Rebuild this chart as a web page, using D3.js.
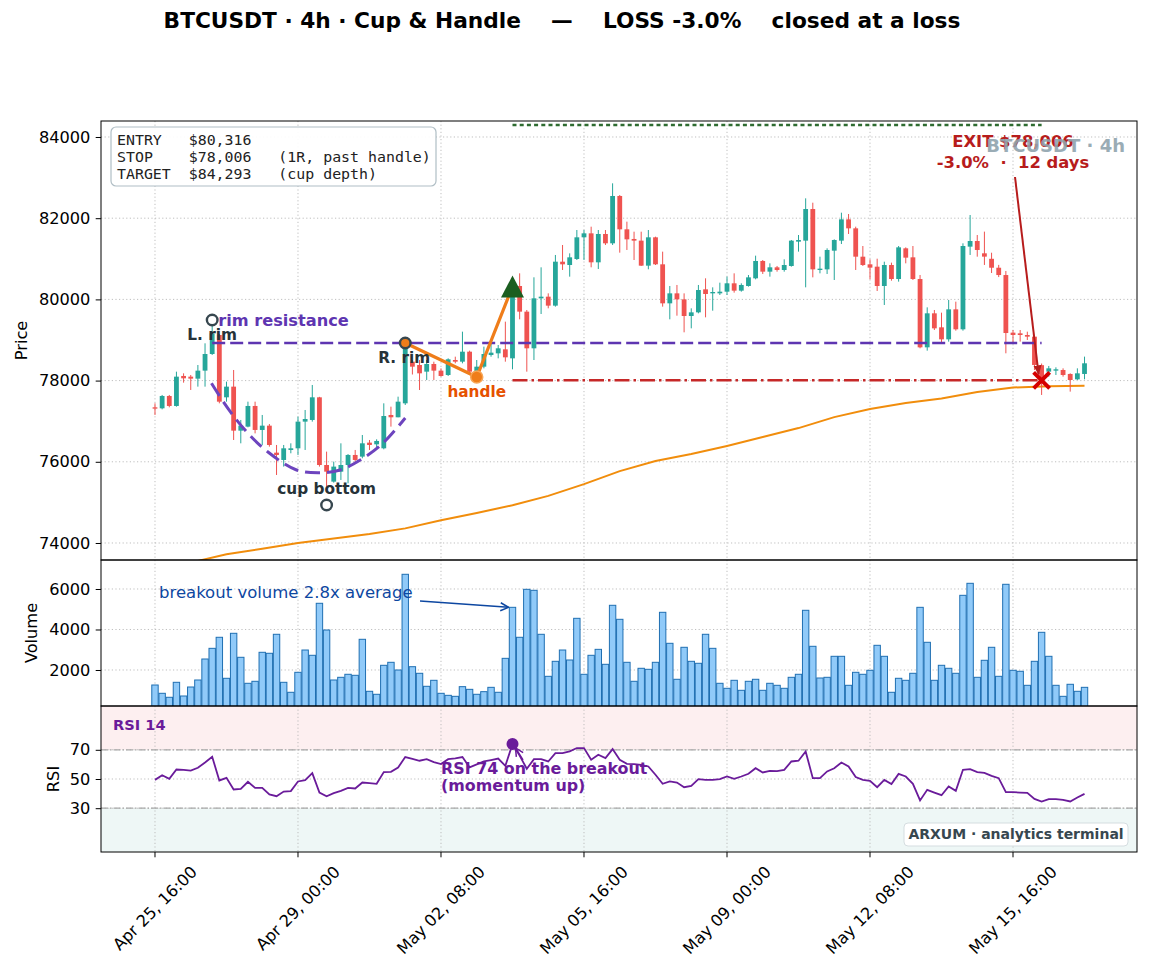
<!DOCTYPE html>
<html>
<head>
<meta charset="utf-8">
<script src="https://cdn.jsdelivr.net/npm/d3@7"></script>
<style>
  body { margin: 0; background: #fff; }
  text { font-family: "DejaVu Sans", sans-serif; }
  .pre { white-space: pre; }
</style>
</head>
<body>
<svg id="chart"></svg>
<script>
// ---- data ----
// candle index 0 = Apr 25 16:00, 4h per candle
const tickIdx = [0, 20, 40, 60, 80, 100, 120];
const tickLabels = ["Apr 25, 16:00", "Apr 29, 00:00", "May 02, 08:00", "May 05, 16:00",
                    "May 09, 00:00", "May 12, 08:00", "May 15, 16:00"];
const priceTicks = [74000, 76000, 78000, 80000, 82000, 84000];
const volTicks = [2000, 4000, 6000];
const rsiTicks = [30, 50, 70];

// [open, high, low, close]
const ohlc = [
  [77342,77440,77153,77309],[77317,77646,77292,77621],[77621,77646,77342,77375],[77375,78220,77358,78097],
  [78114,78179,77949,78056],[78097,78138,77769,78048],[78048,78384,77851,78245],[78245,78918,77851,78655],
  [78655,79411,78631,79164],[79123,79150,77440,77481],[77588,77974,77481,77851],[77851,78261,76537,76767],
  [76767,77030,76455,76890],[76866,77481,76849,77375],[77375,77481,76700,76784],[76784,77153,76414,76890],
  [76890,76931,76373,76414],[76225,76414,75675,76168],[76045,76414,75881,76332],[76291,76455,76209,76332],
  [76332,77112,76168,76989],[76989,77276,76291,77054],[77030,77892,76989,77588],[77588,77600,75881,75921],
  [75921,76250,75306,75757],[75511,76004,75486,75881],[75757,76455,75552,75921],[75921,76190,75470,76168],
  [76168,76291,76004,76045],[76127,76660,76086,76455],[76472,76537,76291,76414],[76430,76554,76332,76513],
  [76332,77440,76307,77128],[77153,77358,76866,77096],[77096,77604,77096,77481],[77440,78959,77399,78918],
  [78466,78507,78150,78343],[78384,78507,77768,78179],[78220,78507,78015,78409],[78409,78466,78015,78245],
  [78245,78302,78097,78113],[78138,78548,78113,78524],[78507,78589,78425,78466],[78466,79205,78425,78712],
  [78712,78737,78179,78220],[78179,78507,78060,78343],[78343,78836,78302,78655],[78630,78918,78589,78688],
  [78671,78877,78548,78795],[78770,79452,78466,78573],[78548,80480,78278,80316],[80330,80642,79509,79698],
  [79698,79739,78220,78795],[78795,80544,78507,80026],[80026,80790,79640,80067],[80067,80149,79780,79846],
  [79846,81094,79821,80929],[80929,81340,80724,80864],[80847,81134,80560,81036],[80995,81709,80970,81529],
  [81529,81709,80970,81627],[81627,81791,80790,80913],[80913,81709,80749,81611],[81611,81709,81340,81381],
  [81381,82859,81340,82547],[82547,82571,81151,81726],[81726,81915,81217,81479],[81488,81668,80970,81447],
  [81447,81668,80823,80831],[80831,81709,80741,81529],[81529,81545,80847,80864],[80864,81176,79821,79903],
  [79903,80330,79509,80149],[80149,80355,79599,80001],[80001,80149,79189,79591],[79591,79780,79287,79681],
  [79681,80355,79657,80231],[80248,80519,79558,80133],[80149,80297,79722,80182],[80149,80412,80108,80190],
  [80190,80560,80108,80396],[80396,80642,80166,80215],[80215,80396,80190,80355],[80330,80601,80314,80543],
  [80519,81077,80494,80946],[80946,80970,80626,80683],[80683,80888,80560,80790],[80790,80823,80683,80724],
  [80724,80987,80683,80847],[80823,81463,80806,81447],[81422,81586,81176,81463],[81447,82489,80297,82226],
  [82226,82382,80543,80740],[80724,81052,80642,80757],[80740,81258,80626,81217],[81200,81479,80478,81463],
  [81447,82136,81364,81972],[81972,82103,81611,81750],[81750,81791,80724,81052],[81052,81315,80823,80847],
  [80864,80987,80494,80782],[80806,81003,80207,80330],[80330,80929,79862,80847],[80847,80905,80461,80502],
  [80502,81315,80437,81282],[81258,81282,80888,81028],[81036,81315,80478,80502],[80502,80601,78795,78819],
  [78819,79804,78737,79657],[79657,79739,79246,79287],[79312,79673,78934,79016],[79016,79985,78959,79755],
  [79755,79944,79230,79263],[79263,81381,79230,81315],[81299,82079,81094,81438],[81438,81586,81052,81217],
  [81135,81669,80848,81053],[81000,81150,80650,80780],[80780,80850,80550,80600],[80600,80700,78672,79172],
  [79181,79246,78918,79123],[79164,79246,78960,79123],[79123,79205,79000,79082],[79082,79082,78261,78385],
  [78380,78420,77646,78006],[78220,78360,78097,78302],[78245,78327,78138,78278],[78261,78302,78097,78138],
  [78163,78179,77728,78015],[78031,78302,78015,78179],[78163,78590,78031,78426]
];

const volumes = [
  1259,849,652,1392,716,1160,1506,2543,3070,3615,
  1590,3812,2627,1343,1442,2874,2825,3763,1392,899,
  1886,2987,2726,5294,3975,1506,1639,1788,1738,3516,
  948,800,2232,2380,2000,6726,2163,1837,1195,1491,
  849,749,700,1177,1045,800,930,1144,899,2576,
  5095,3615,5984,5935,3763,1688,2429,2987,2494,4552,
  1788,2726,3020,2281,5195,4503,2380,1442,2084,2034,
  2380,4849,3318,1541,3121,2429,2331,3763,3070,1343,
  1096,1491,997,1442,1541,997,1343,1244,1096,1639,
  1788,4948,3170,1605,1639,2676,2676,1244,1886,1788,
  1985,3219,2676,899,1590,1491,1837,5095,3368,1491,
  2232,2084,1837,5688,6281,1639,2479,3121,1688,6232,
  1985,1936,1244,2429,3861,2676,1244,700,1294,948,
  1144
];

const rsi = [
  49.4,52.6,50.1,56.5,56.3,55.8,57.7,61.3,65.2,49.0,
  50.8,42.8,43.3,48.1,43.9,43.9,39.4,38.2,41.4,41.7,
  48.3,49.2,54.0,40.7,38.2,40.3,41.9,43.9,43.5,47.6,
  47.2,46.7,54.7,54.9,57.9,65.0,63.8,62.5,63.6,61.6,
  60.2,63.6,64.1,65.0,58.0,60.0,62.0,63.0,64.0,59.0,
  74.0,66.0,57.0,63.6,63.6,62.0,67.7,67.7,68.9,71.2,
  71.2,63.2,66.6,64.3,70.5,63.2,60.4,60.2,59.7,58.6,
  52.9,46.7,48.3,47.6,44.4,45.3,49.9,49.4,49.4,49.9,
  51.7,50.1,51.7,53.6,57.4,54.5,55.6,55.4,56.3,62.0,
  62.5,68.9,50.6,50.6,55.2,57.4,61.3,58.6,51.3,49.4,
  48.8,44.4,49.4,46.5,53.5,51.7,46.7,35.3,42.6,40.7,
  38.9,44.9,41.9,56.3,56.7,54.7,54.2,52.2,50.6,41.0,
  41.0,40.7,40.5,36.4,34.6,36.2,36.2,35.7,34.6,37.3,
  39.8
];

// slow moving average, [candle index, price]
const maPoints = [
  [0,73250],[6,73560],[10,73720],[15,73860],[20,74000],[25,74110],[30,74220],[35,74360],
  [40,74560],[45,74740],[50,74930],[55,75160],[60,75450],[65,75770],[70,76020],[75,76190],
  [80,76390],[85,76610],[90,76830],[95,77100],[100,77300],[105,77450],[110,77560],[115,77720],
  [120,77830],[125,77860],[130,77870]
];

// cup outline, [candle index, price]
const cupArc = [[7.9,77933],[10.2,77315],[12.8,76741],[15.8,76241],[19.8,75798],[23.1,75731],
                [25.9,75798],[28.7,76044],[31.9,76463],[35,77079]];

// pattern pivots
const rimLevel = 78926;
const lRim = { i: 8, price: 79493 };
const rRim = { i: 35, price: 78926 };
const cupBottom = { i: 24, price: 74936 };
const handlePt = { i: 45, price: 78089 };
const entryPt = { i: 50, price: 80316 };
const exitPt = { i: 124, price: 78006 };
const stopPrice = 78006, targetPrice = 84293;
const rsiBreakout = { i: 50, value: 74 };

const infoLines = ["ENTRY   $80,316", "STOP    $78,006   (1R, past handle)", "TARGET  $84,293   (cup depth)"];

// ---- layout ----
const W = 1149, H = 973;
const L = 101, R = 1137;
const pTop = 121, pBot = 560, vTop = 560, vBot = 706, rTop = 706, rBot = 852;

const x = d3.scaleLinear().domain([-7.55, 137.34]).range([L, R]);
const yP = d3.scaleLinear().domain([73581, 84394]).range([pBot, pTop]);
const yV = d3.scaleLinear().domain([222, 7432]).range([vBot, vTop]);
const yR = d3.scaleLinear().domain([0, 100]).range([rBot, rTop]);

const UP = "#26a69a", DOWN = "#ef5350";
const TICK_FS = 16.2, TICK_LEN = 5.3, TICK_PAD = 5.3;

const svg = d3.select("#chart").attr("width", W).attr("height", H);
svg.append("rect").attr("width", W).attr("height", H).attr("fill", "#fff");
const defs = svg.append("defs");

function clip(id, top, bot) {
  defs.append("clipPath").attr("id", id).append("rect")
    .attr("x", L).attr("y", top).attr("width", R - L).attr("height", bot - top);
}
clip("clipP", pTop, pBot); clip("clipV", vTop, vBot); clip("clipR", rTop, rBot);

function arrowHead(id, color, filled) {
  const m = defs.append("marker").attr("id", id).attr("viewBox", "0 0 10 10")
    .attr("refX", 9).attr("refY", 5).attr("markerWidth", 10).attr("markerHeight", 10)
    .attr("markerUnits", "userSpaceOnUse").attr("orient", "auto");
  if (filled) m.append("path").attr("d", "M0,1 L10,5 L0,9 Z").attr("fill", color);
  else m.append("path").attr("d", "M1,1 L9,5 L1,9").attr("fill", "none").attr("stroke", color).attr("stroke-width", 1.5);
}
arrowHead("arBlue", "#0d47a1", false);
arrowHead("arRed", "#b71c1c", true);
arrowHead("arPurple", "#6a1b9a", false);

// RSI zone shading
svg.append("rect").attr("x", L).attr("width", R - L).attr("y", yR(100)).attr("height", yR(70) - yR(100)).attr("fill", "#fdeff0");
svg.append("rect").attr("x", L).attr("width", R - L).attr("y", yR(30)).attr("height", yR(0) - yR(30)).attr("fill", "#eef7f6");

// grids
function grid(yScale, ticks, top, bot) {
  const g = svg.append("g").attr("stroke", "#b8b8b8").attr("stroke-width", 0.9).attr("stroke-dasharray", "1.2,2.4");
  g.selectAll(".gx").data(tickIdx).join("line")
    .attr("x1", d => x(d)).attr("x2", d => x(d)).attr("y1", top).attr("y2", bot);
  g.selectAll(".gy").data(ticks).join("line")
    .attr("x1", L).attr("x2", R).attr("y1", d => yScale(d)).attr("y2", d => yScale(d));
}
grid(yP, priceTicks, pTop, pBot);
grid(yV, volTicks, vTop, vBot);
grid(yR, rsiTicks, rTop, rBot);

// RSI 70 / 30 guides
svg.append("g").selectAll("line").data([70, 30]).join("line")
  .attr("x1", L).attr("x2", R).attr("y1", d => yR(d)).attr("y2", d => yR(d))
  .attr("stroke", "#a8a8a8").attr("stroke-width", 1.3).attr("stroke-dasharray", "7,2,1.5,2");

// ---- price panel ----
const gP = svg.append("g").attr("clip-path", "url(#clipP)");

gP.append("path").datum(maPoints)
  .attr("d", d3.line().x(d => x(d[0])).y(d => yP(d[1])))
  .attr("fill", "none").attr("stroke", "#f18d0c").attr("stroke-width", 2);

const candles = gP.append("g").selectAll("g").data(ohlc).join("g");
candles.append("line")
  .attr("x1", (d, i) => x(i)).attr("x2", (d, i) => x(i))
  .attr("y1", d => yP(d[1])).attr("y2", d => yP(d[2]))
  .attr("stroke", d => d[3] >= d[0] ? UP : DOWN).attr("stroke-width", 1);
candles.append("rect")
  .attr("x", (d, i) => x(i) - 2.4).attr("width", 4.8)
  .attr("y", d => yP(Math.max(d[0], d[3])))
  .attr("height", d => Math.max(1, Math.abs(yP(d[0]) - yP(d[3]))))
  .attr("fill", d => d[3] >= d[0] ? UP : DOWN);

// target, stop, rim lines
gP.append("line").attr("x1", x(entryPt.i)).attr("x2", x(exitPt.i))
  .attr("y1", yP(targetPrice)).attr("y2", yP(targetPrice))
  .attr("stroke", "#2e6b30").attr("stroke-width", 2.5).attr("stroke-dasharray", "4,3.2");
gP.append("line").attr("x1", x(entryPt.i)).attr("x2", x(exitPt.i))
  .attr("y1", yP(stopPrice)).attr("y2", yP(stopPrice))
  .attr("stroke", "#c62828").attr("stroke-width", 2.5).attr("stroke-dasharray", "15,4,2.5,4");
gP.append("line").attr("x1", x(lRim.i)).attr("x2", x(exitPt.i))
  .attr("y1", yP(rimLevel)).attr("y2", yP(rimLevel))
  .attr("stroke", "#5e35b1").attr("stroke-width", 2.4).attr("stroke-dasharray", "13,5");

// cup outline
gP.append("path").datum(cupArc)
  .attr("d", d3.line().curve(d3.curveCatmullRom).x(d => x(d[0])).y(d => yP(d[1])))
  .attr("fill", "none").attr("stroke", "#6d44be").attr("stroke-width", 3).attr("stroke-dasharray", "15,7");

// handle path
gP.append("path").datum([rRim, handlePt, entryPt])
  .attr("d", d3.line().x(d => x(d.i)).y(d => yP(d.price)))
  .attr("fill", "none").attr("stroke", "#ef7d1a").attr("stroke-width", 3.2);

// pivot markers
[lRim, cupBottom].forEach(p => {
  gP.append("circle").attr("cx", x(p.i)).attr("cy", yP(p.price)).attr("r", 5.3)
    .attr("fill", "#fff").attr("stroke", "#37474f").attr("stroke-width", 2.4);
});
gP.append("circle").attr("cx", x(rRim.i)).attr("cy", yP(rRim.price)).attr("r", 5.3)
  .attr("fill", "#ef7d1a").attr("stroke", "#37474f").attr("stroke-width", 2.4);
gP.append("circle").attr("cx", x(handlePt.i)).attr("cy", yP(handlePt.price)).attr("r", 6)
  .attr("fill", "#ef7d1a").attr("stroke", "#f7a657").attr("stroke-width", 1.5);

// entry triangle
{
  const cx = x(entryPt.i), cy = yP(entryPt.price);
  gP.append("path").attr("d", `M${cx},${cy - 11}L${cx - 11.5},${cy + 11}L${cx + 11.5},${cy + 11}Z`)
    .attr("fill", "#1b5e20");
}
// exit cross
{
  const cx = x(exitPt.i), cy = yP(exitPt.price), s = 8;
  gP.append("path").attr("d", `M${cx - s},${cy - s}L${cx + s},${cy + s}M${cx - s},${cy + s}L${cx + s},${cy - s}`)
    .attr("stroke", "#d50000").attr("stroke-width", 4);
}

// price labels
const lab = svg.append("g").attr("font-weight", "bold");
lab.append("text").attr("x", x(lRim.i)).attr("y", yP(lRim.price) + 20).attr("text-anchor", "middle")
  .attr("font-size", 15.3).attr("fill", "#263238").text("L. rim");
lab.append("text").attr("x", x(lRim.i) + 6).attr("y", yP(rimLevel) - 17)
  .attr("font-size", 16.2).attr("fill", "#5e35b1").text("rim resistance");
lab.append("text").attr("x", x(rRim.i) - 1).attr("y", yP(rRim.price) + 20).attr("text-anchor", "middle")
  .attr("font-size", 15.3).attr("fill", "#263238").text("R. rim");
lab.append("text").attr("x", x(cupBottom.i)).attr("y", yP(cupBottom.price) - 11).attr("text-anchor", "middle")
  .attr("font-size", 15.3).attr("fill", "#263238").text("cup bottom");
lab.append("text").attr("x", x(handlePt.i)).attr("y", yP(handlePt.price) + 20).attr("text-anchor", "middle")
  .attr("font-size", 15.3).attr("fill", "#e65100").text("handle");

// exit annotation
const exX = x(120);
lab.append("text").attr("x", exX).attr("y", 147).attr("text-anchor", "middle")
  .attr("font-size", 16.4).attr("fill", "#b71c1c").text("EXIT $78,006");
lab.append("text").attr("x", exX).attr("y", 167.5).attr("text-anchor", "middle").attr("class", "pre")
  .attr("font-size", 16.4).attr("fill", "#b71c1c").text("-3.0%  \u00b7  12 days");
svg.append("line").attr("x1", exX + 2).attr("y1", 177)
  .attr("x2", x(exitPt.i) - 3).attr("y2", yP(exitPt.price) - 6)
  .attr("stroke", "#b71c1c").attr("stroke-width", 2).attr("marker-end", "url(#arRed)");

// watermark
svg.append("text").attr("x", 1125).attr("y", 152).attr("text-anchor", "end")
  .attr("font-size", 18).attr("font-weight", "bold").attr("fill", "#90a4ae").attr("opacity", 0.9)
  .text("BTCUSDT \u00b7 4h");

// info box
svg.append("rect").attr("x", 111).attr("y", 127).attr("width", 325).attr("height", 59).attr("rx", 5)
  .attr("fill", "#fff").attr("fill-opacity", 0.92).attr("stroke", "#b0bec5").attr("stroke-width", 1.2);
svg.append("g").selectAll("text").data(infoLines).join("text")
  .attr("class", "pre").attr("x", 117).attr("y", (d, i) => 145 + i * 17)
  .attr("font-size", 14.9).attr("fill", "#222")
  .style("font-family", "'DejaVu Sans Mono', monospace").text(d => d);

// ---- volume panel ----
const gV = svg.append("g").attr("clip-path", "url(#clipV)");
gV.selectAll("rect").data(volumes).join("rect")
  .attr("x", (d, i) => x(i) - 3.2).attr("width", 6.4)
  .attr("y", d => yV(d)).attr("height", d => vBot + 2 - yV(d))
  .attr("fill", "#90caf9").attr("stroke", "#1f6fb2").attr("stroke-width", 1);

svg.append("text").attr("x", 159).attr("y", 598).attr("font-size", 16.5).attr("fill", "#0d47a1")
  .text("breakout volume 2.8x average");
svg.append("line").attr("x1", 420).attr("y1", 601).attr("x2", x(50) - 4).attr("y2", yV(volumes[50]))
  .attr("stroke", "#0d47a1").attr("stroke-width", 1.6).attr("marker-end", "url(#arBlue)");

// ---- RSI panel ----
const gR = svg.append("g").attr("clip-path", "url(#clipR)");
gR.append("path").datum(rsi)
  .attr("d", d3.line().x((d, i) => x(i)).y(d => yR(d)))
  .attr("fill", "none").attr("stroke", "#6a1b9a").attr("stroke-width", 1.8);
gR.append("circle").attr("cx", x(rsiBreakout.i)).attr("cy", yR(rsiBreakout.value)).attr("r", 6).attr("fill", "#6a1b9a");

svg.append("text").attr("x", 113).attr("y", 730).attr("font-size", 14.6).attr("font-weight", "bold")
  .attr("fill", "#6a1b9a").text("RSI 14");
const rsiNote = svg.append("g").attr("font-size", 15.9).attr("font-weight", "bold").attr("fill", "#6a1b9a");
rsiNote.append("text").attr("x", 441).attr("y", 774).text("RSI 74 on the breakout");
rsiNote.append("text").attr("x", 441).attr("y", 791).text("(momentum up)");
svg.append("line").attr("x1", 523).attr("y1", 760).attr("x2", x(rsiBreakout.i) + 3).attr("y2", yR(rsiBreakout.value) + 4)
  .attr("stroke", "#6a1b9a").attr("stroke-width", 1.5).attr("marker-end", "url(#arPurple)");

// brand box
svg.append("rect").attr("x", 904).attr("y", 823).attr("width", 224).attr("height", 23).attr("rx", 4)
  .attr("fill", "#fff").attr("stroke", "#d5dde0").attr("stroke-width", 1);
svg.append("text").attr("x", 1016).attr("y", 839).attr("text-anchor", "middle").attr("font-size", 14)
  .attr("font-weight", "bold").attr("fill", "#37474f").text("ARXUM \u00b7 analytics terminal");

// ---- axes & frames ----
function yAxis(scale, ticks, label, lx, top, bot) {
  const g = svg.append("g").attr("transform", `translate(${L},0)`)
    .call(d3.axisLeft(scale).tickValues(ticks).tickSize(TICK_LEN).tickPadding(TICK_PAD).tickFormat(d3.format("d")));
  g.select(".domain").remove();
  g.selectAll("text").attr("font-size", TICK_FS).attr("fill", "#000").style("font-family", "'DejaVu Sans', sans-serif");
  g.selectAll("line").attr("stroke", "#000");
  svg.append("text").attr("transform", `translate(${lx},${(top + bot) / 2}) rotate(-90)`)
    .attr("text-anchor", "middle").attr("dominant-baseline", "central").attr("font-size", TICK_FS).text(label);
}
yAxis(yP, priceTicks, "Price", 21, pTop, pBot);
yAxis(yV, volTicks, "Volume", 31, vTop, vBot);
yAxis(yR, rsiTicks, "RSI", 53, rTop, rBot);

[[pTop, pBot], [vTop, vBot], [rTop, rBot]].forEach(([t, b]) => {
  svg.append("rect").attr("x", L).attr("y", t).attr("width", R - L).attr("height", b - t)
    .attr("fill", "none").attr("stroke", "#000").attr("stroke-width", 1);
});

// x ticks
const xt = svg.append("g");
tickIdx.forEach((t, k) => {
  xt.append("line").attr("x1", x(t)).attr("x2", x(t)).attr("y1", rBot).attr("y2", rBot + TICK_LEN).attr("stroke", "#000");
  const tx = xt.append("text").attr("font-size", TICK_FS).attr("text-anchor", "middle")
    .attr("dominant-baseline", "central").text(tickLabels[k]);
  const w = tx.node().getComputedTextLength();
  const bh = (w + TICK_FS * 1.15) * Math.SQRT1_2;
  tx.attr("transform", `translate(${x(t)},${rBot + TICK_LEN + TICK_PAD + bh / 2}) rotate(-45)`);
});

// title
svg.append("text").attr("class", "pre").attr("x", 562).attr("y", 28).attr("text-anchor", "middle")
  .attr("font-size", 21.7).attr("font-weight", "bold").attr("fill", "#000")
  .text("BTCUSDT \u00b7 4h \u00b7 Cup & Handle    \u2014    LOSS -3.0%    closed at a loss");
</script>
</body>
</html>
